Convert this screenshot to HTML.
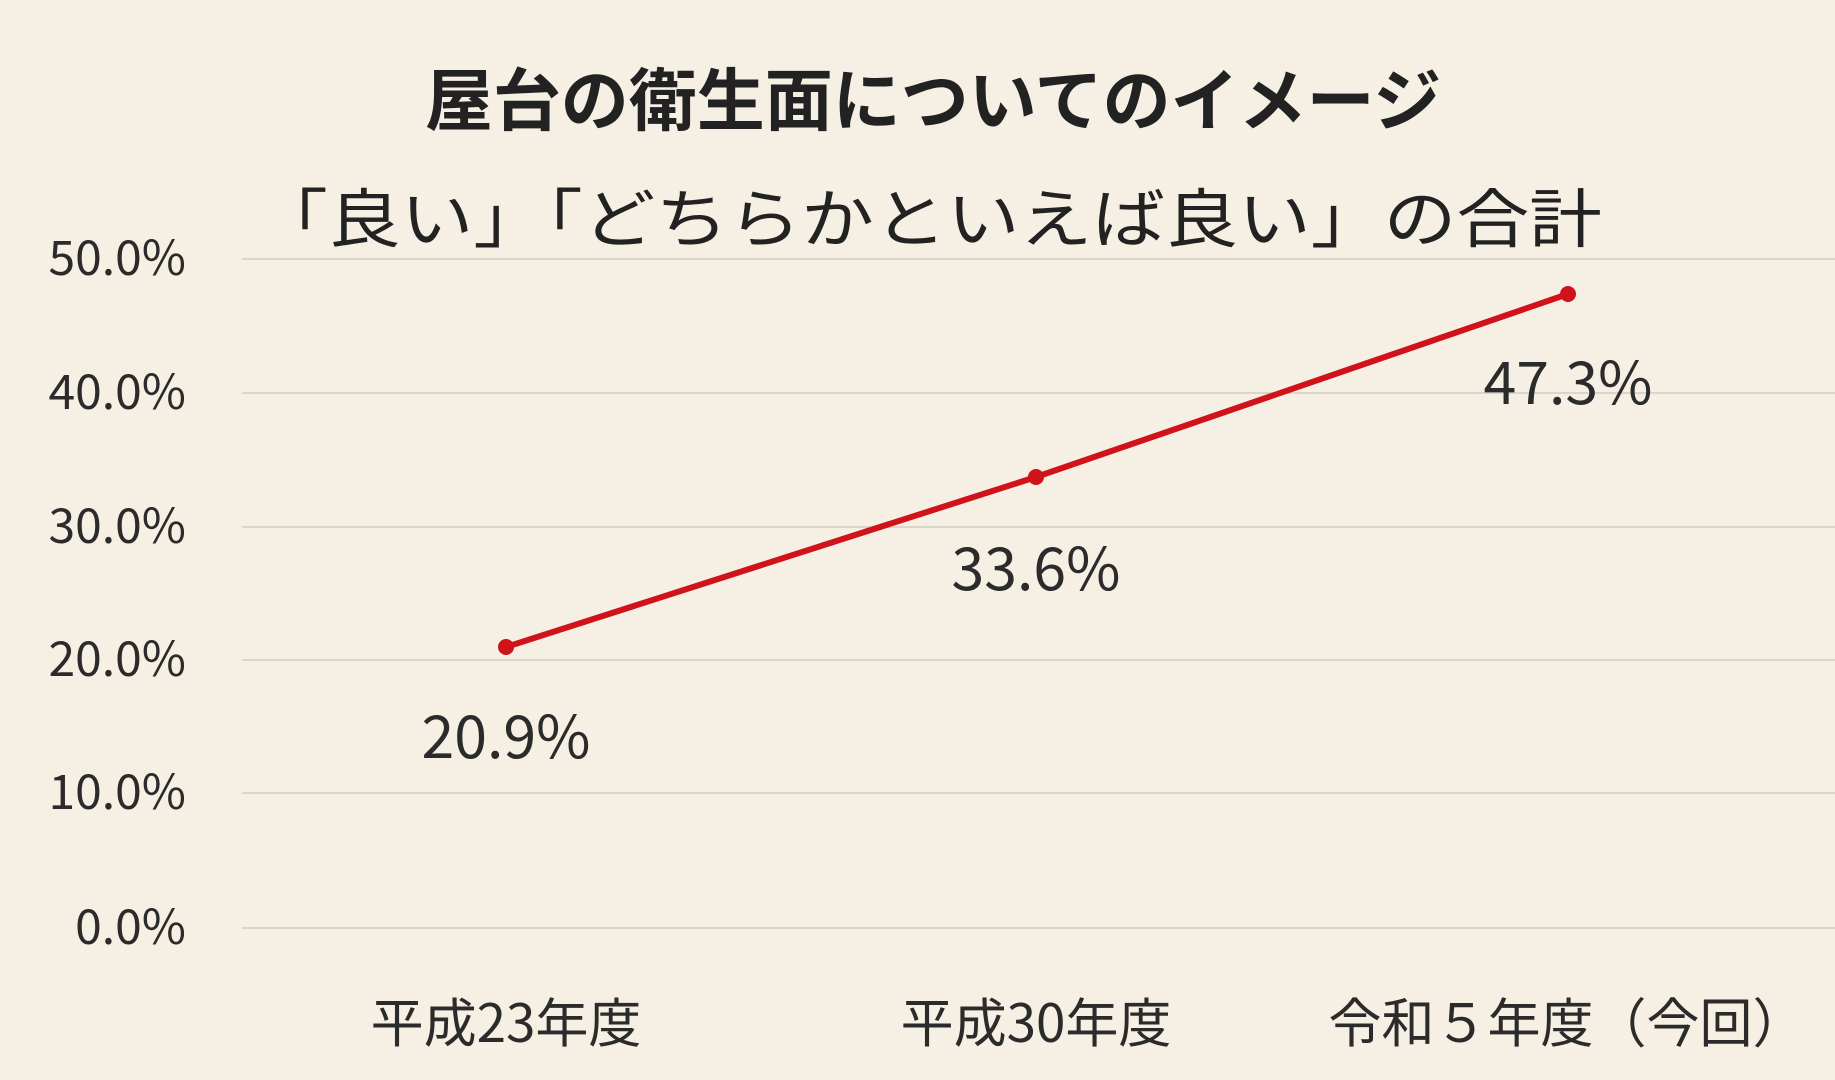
<!DOCTYPE html>
<html><head><meta charset="utf-8"><style>
html,body{margin:0;padding:0;background:#f6efe3;}
svg{display:block}
text{font-family:"Noto Sans CJK JP","Liberation Sans",sans-serif;fill:#2b2b2b}
</style></head><body>
<svg width="1835" height="1080" viewBox="0 0 1835 1080" xmlns="http://www.w3.org/2000/svg">
<rect width="1835" height="1080" fill="#f6efe3"/>
<g stroke="#dcd5cb" stroke-width="2">
<line x1="242" y1="259" x2="1835" y2="259"/>
<line x1="242" y1="393" x2="1835" y2="393"/>
<line x1="242" y1="527" x2="1835" y2="527"/>
<line x1="242" y1="660" x2="1835" y2="660"/>
<line x1="242" y1="793" x2="1835" y2="793"/>
<line x1="242" y1="928" x2="1835" y2="928"/>
</g>
<g font-size="48" text-anchor="end" style="fill:#333">
<text x="186" y="275">50.0%</text>
<text x="186" y="409">40.0%</text>
<text x="186" y="543">30.0%</text>
<text x="186" y="676">20.0%</text>
<text x="186" y="809">10.0%</text>
<text x="186" y="944">0.0%</text>
</g>
<text x="933" y="125" font-size="68" font-weight="bold" text-anchor="middle" style="fill:#222">屋台の衛生面についてのイメージ</text>
<text x="255" y="242" font-size="64" textLength="1347" lengthAdjust="spacingAndGlyphs" style="fill:#222">「良い」「どちらかといえば良い」の合計</text>
<polyline points="506,647 1036,477 1568,294" fill="none" stroke="#d0121b" stroke-width="6" stroke-linejoin="round"/>
<circle cx="506" cy="647" r="8" fill="#d0121b"/>
<circle cx="1036" cy="477" r="8" fill="#d0121b"/>
<circle cx="1568" cy="294" r="8" fill="#d0121b"/>
<g font-size="59" text-anchor="middle" style="fill:#222">
<text x="506" y="758">20.9%</text>
<text x="1036" y="590">33.6%</text>
<text x="1568" y="404">47.3%</text>
</g>
<g font-size="53" text-anchor="middle" style="fill:#333">
<text x="506" y="1042">平成23年度</text>
<text x="1036" y="1042">平成30年度</text>
<text x="1567" y="1042">令和５年度（今回）</text>
</g>
</svg>
</body></html>
